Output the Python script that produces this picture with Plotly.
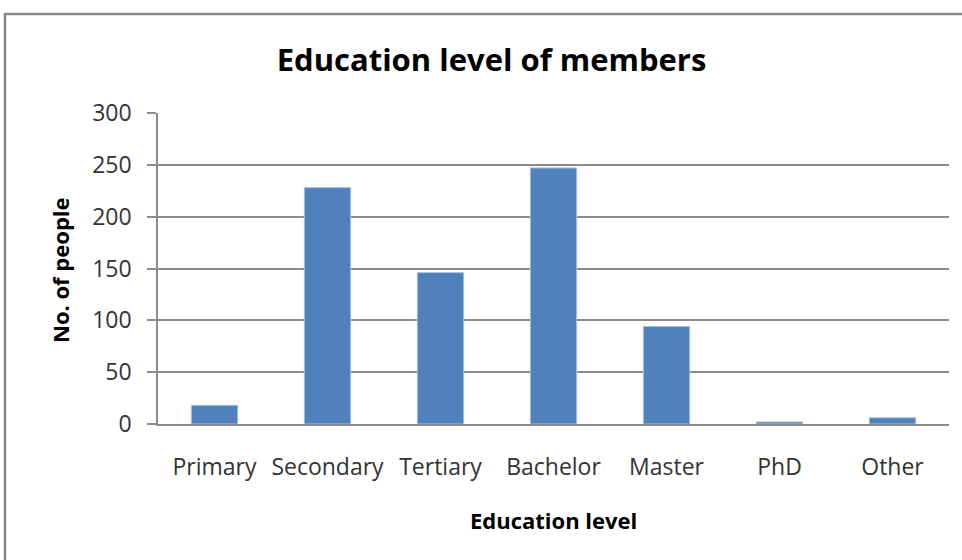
import plotly.graph_objects as go

categories = ["Primary", "Secondary", "Tertiary", "Bachelor", "Master", "PhD", "Other"]
people = [18, 228, 146, 247, 94, 2, 6]
y_ticks = [0, 50, 100, 150, 200, 250, 300]

W, H = 962, 560
L, R, T, B = 158, 949, 113, 424

def px_x(p):
    return (p - L) / (R - L)

def px_y(p):
    return (B - p) / (B - T)

FONT = "Open Sans"
GRID = "#8c8c8c"

fig = go.Figure(
    go.Bar(x=categories, y=people, marker=dict(color="#4F81BD", line=dict(color="#A7C0DE", width=1)), width=0.41)
)

fig.update_layout(
    width=W, height=H,
    margin=dict(l=L, r=W - R, t=T, b=H - B),
    paper_bgcolor="white", plot_bgcolor="white",
    showlegend=False,
    title=dict(text="<b>Education level of members</b>", x=(277 + 706) / 2 / W, xanchor="center",
               y=1 - 60 / H, yanchor="middle",
               font=dict(family=FONT, size=31, color="black")),
    font=dict(family=FONT, color="#333333"),
)

fig.update_xaxes(
    showline=True, linecolor=GRID, linewidth=1.5,
    ticks="", showgrid=False,
    tickfont=dict(family=FONT, size=23, color="#333333"),
    ticklabelstandoff=22,
)
fig.update_yaxes(
    range=[0, 300], tickvals=y_ticks,
    showline=True, linecolor=GRID, linewidth=1.5,
    ticks="outside", ticklen=9, tickcolor=GRID, tickwidth=1.5,
    showgrid=True, gridcolor=GRID, gridwidth=1.5,
    zeroline=False,
    tickfont=dict(family=FONT, size=23, color="#333333"),
    ticklabelstandoff=11,
)

fig.add_annotation(text="<b>Education level</b>", xref="paper", yref="paper",
                   x=px_x(553), y=px_y(520), showarrow=False,
                   xanchor="center", yanchor="middle",
                   font=dict(family=FONT, size=22, color="black"))
fig.add_annotation(text="<b>No. of people</b>", xref="paper", yref="paper",
                   x=px_x(60), y=px_y(270), showarrow=False, textangle=-90,
                   xanchor="center", yanchor="middle",
                   font=dict(family=FONT, size=22, color="black"))

# chart frame
fig.add_shape(type="rect", xref="paper", yref="paper",
              x0=px_x(5), y0=px_y(14), x1=px_x(1000), y1=px_y(620),
              line=dict(color="#868686", width=2.5), layer="below")

fig.write_html("out.html", config={"displayModeBar": False},
               post_script="document.body.style.margin='0';")
